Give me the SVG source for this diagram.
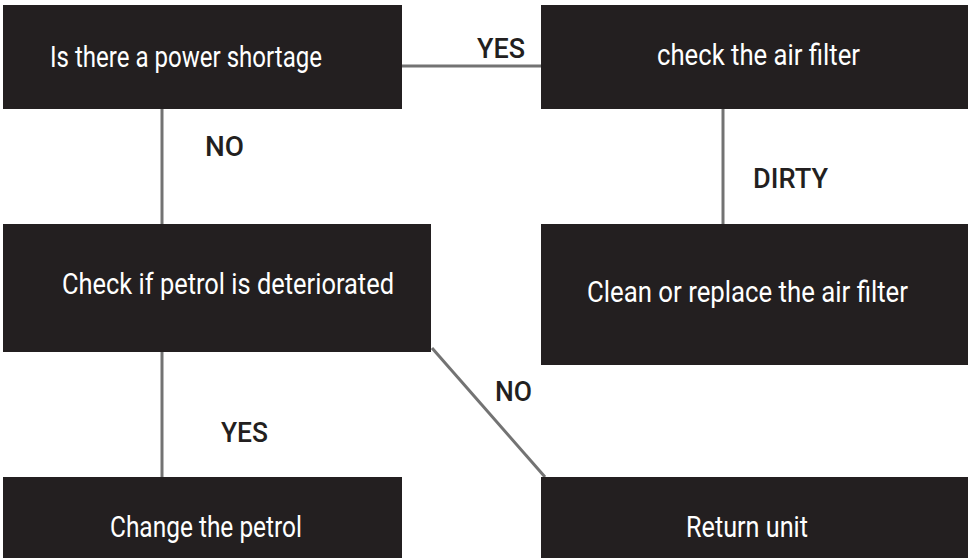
<svg xmlns="http://www.w3.org/2000/svg" width="972" height="558" viewBox="0 0 972 558">
<style>
.box{fill:#231f20}
.nt{font-family:Roboto,"Liberation Sans",sans-serif;font-size:29px;fill:#ffffff}
.lb{font-family:Roboto,"Liberation Sans",sans-serif;font-size:27px;font-weight:500;fill:#231f20}
.cn{stroke:#737373;stroke-width:3;fill:none}
</style>
<rect width="972" height="558" fill="#ffffff"/>
<g id="connectors">
<line class="cn" x1="402" y1="66" x2="541" y2="66"/>
<line class="cn" x1="162" y1="109" x2="162" y2="224"/>
<line class="cn" x1="723" y1="109" x2="723" y2="224"/>
<line class="cn" x1="162" y1="352" x2="162" y2="477"/>
<line class="cn" x1="432" y1="348" x2="545" y2="477"/>
<text class="lb" x="477" y="58" textLength="48" lengthAdjust="spacingAndGlyphs">YES</text>
<text class="lb" x="205" y="156" textLength="39" lengthAdjust="spacingAndGlyphs">NO</text>
<text class="lb" x="753" y="188" textLength="75" lengthAdjust="spacingAndGlyphs">DIRTY</text>
<text class="lb" x="221" y="442" textLength="47" lengthAdjust="spacingAndGlyphs">YES</text>
<text class="lb" x="495" y="401" textLength="37" lengthAdjust="spacingAndGlyphs">NO</text>
</g>
<g id="n1">
<rect class="box" x="3" y="5" width="399" height="104"/>
<text class="nt" x="50" y="67" textLength="272" lengthAdjust="spacingAndGlyphs">Is there a power shortage</text>
</g>
<g id="n2">
<rect class="box" x="541" y="5" width="427" height="104"/>
<text class="nt" x="657" y="65" textLength="203" lengthAdjust="spacingAndGlyphs">check the air filter</text>
</g>
<g id="n3">
<rect class="box" x="3" y="224" width="428" height="128"/>
<text class="nt" x="62" y="294" textLength="332" lengthAdjust="spacingAndGlyphs">Check if petrol is deteriorated</text>
</g>
<g id="n4">
<rect class="box" x="541" y="224" width="427" height="141"/>
<text class="nt" x="587" y="302" textLength="321" lengthAdjust="spacingAndGlyphs">Clean or replace the air filter</text>
</g>
<g id="n5">
<rect class="box" x="3" y="477" width="399" height="81"/>
<text class="nt" x="110" y="537" textLength="192" lengthAdjust="spacingAndGlyphs">Change the petrol</text>
</g>
<g id="n6">
<rect class="box" x="541" y="477" width="427" height="81"/>
<text class="nt" x="686" y="537" textLength="122" lengthAdjust="spacingAndGlyphs">Return unit</text>
</g>
</svg>
